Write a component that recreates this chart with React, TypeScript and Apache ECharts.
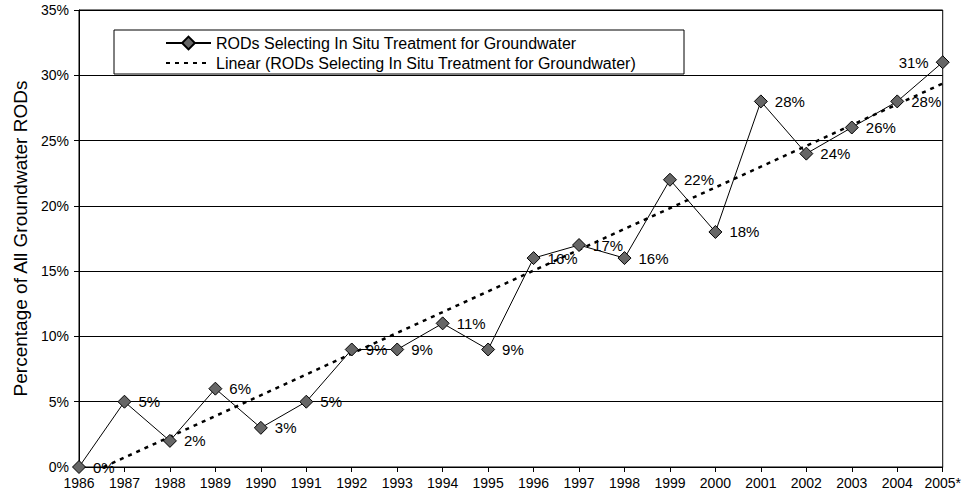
import React, { useEffect, useRef } from "react";
import * as echarts from "echarts";

const years = ["1986","1987","1988","1989","1990","1991","1992","1993","1994","1995","1996","1997","1998","1999","2000","2001","2002","2003","2004","2005*"];
const rodPct = [0,5,2,6,3,5,9,9,11,9,16,17,16,22,18,28,24,26,28,31];
// Linear trendline endpoints (1986 and 2005*)
const trendStart = -0.87;
const trendEnd = 29.37;
const seriesName = "RODs Selecting In Situ Treatment for Groundwater";
const trendName = "Linear (RODs Selecting In Situ Treatment for Groundwater)";
const yTitle = "Percentage of All Groundwater RODs";

export default function App() {
  const ref = useRef<HTMLDivElement>(null);
  useEffect(() => {
    if (!ref.current) return;
    const chart = echarts.init(ref.current, null, { renderer: "svg" });
    const font = "Liberation Sans, Arial, sans-serif";
    const lastIdx = rodPct.length - 1;
    chart.setOption({
      animation: false,
      backgroundColor: "#fff",
      textStyle: { fontFamily: font },
      grid: { left: 79, right: 21, top: 10, bottom: 34, show: true, borderColor: "#000", borderWidth: 1 },
      graphic: [
        {
          type: "rect",
          z: 1,
          shape: { x: 114, y: 30, width: 570, height: 44 },
          style: { fill: "#fff", stroke: "#000", lineWidth: 1 },
        },
      ],
      legend: {
        orient: "vertical",
        left: 160,
        top: 30,
        z: 5,
        itemWidth: 45,
        itemHeight: 16,
        itemGap: 4,
        textStyle: { fontSize: 16, color: "#000", fontFamily: font },
        data: [seriesName, trendName],
      },
      xAxis: {
        type: "category",
        data: years,
        boundaryGap: false,
        axisLine: { lineStyle: { color: "#000", width: 1 } },
        axisTick: { show: true, length: 5, lineStyle: { color: "#000" } },
        axisLabel: { color: "#000", fontSize: 14, margin: 9, interval: 0, fontFamily: font },
      },
      yAxis: {
        type: "value",
        min: 0,
        max: 35,
        interval: 5,
        name: yTitle,
        nameLocation: "middle",
        nameGap: 49,
        nameTextStyle: { fontSize: 19, color: "#000", fontFamily: font },
        axisLine: { show: true, lineStyle: { color: "#000", width: 1 } },
        axisTick: { show: true, length: 5, lineStyle: { color: "#000" } },
        axisLabel: { color: "#000", fontSize: 14, margin: 10, formatter: "{value}%", fontFamily: font },
        splitLine: { show: true, lineStyle: { color: "#000", width: 1 } },
      },
      series: [
        {
          name: seriesName,
          type: "line",
          data: rodPct.map((v, i) =>
            i === lastIdx ? { value: v, label: { position: "left" } } : v
          ),
          symbol: "diamond",
          symbolSize: 13,
          z: 3,
          itemStyle: { color: "#666", borderColor: "#000", borderWidth: 1 },
          lineStyle: { color: "#000", width: 1 },
          label: {
            show: true,
            position: "right",
            distance: 7,
            formatter: "{c}%",
            fontSize: 15,
            color: "#000",
            fontFamily: font,
          },
        },
        {
          name: trendName,
          type: "line",
          data: [[0, trendStart], [19, trendEnd]],
          symbol: "rect",
          showSymbol: false,
          z: 2,
          clip: true,
          itemStyle: { color: "rgba(0,0,0,0)", borderWidth: 0 },
          lineStyle: { color: "#000", width: 2.5, type: [4, 5] },
        },
      ],
    });
    return () => chart.dispose();
  }, []);
  return <div ref={ref} style={{ position: "fixed", left: 0, top: 0, width: 964, height: 501 }} />;
}
